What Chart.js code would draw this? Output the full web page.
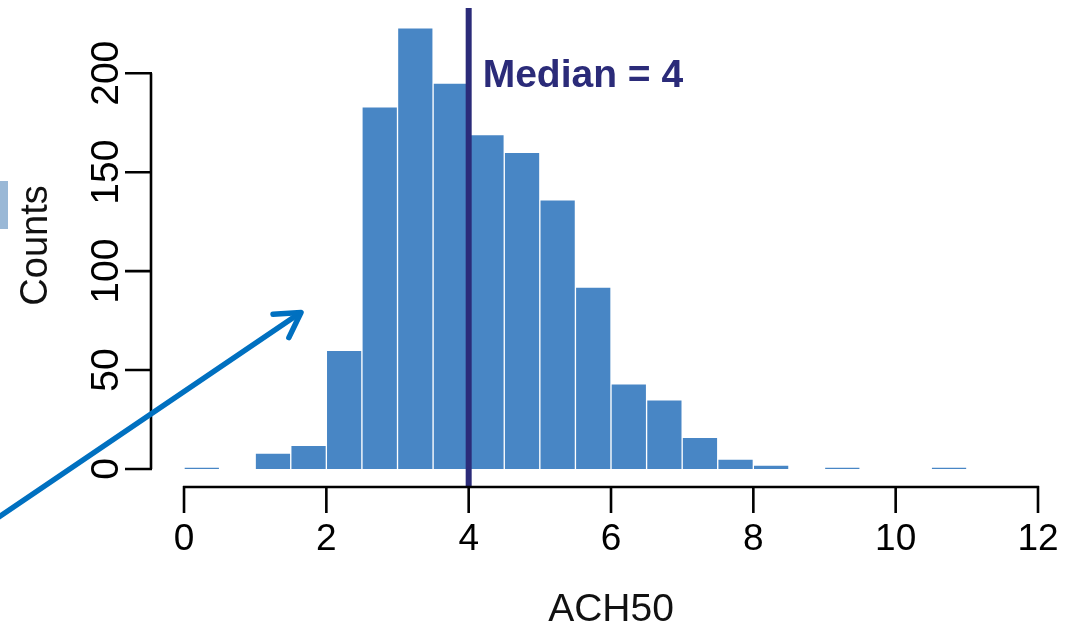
<!DOCTYPE html>
<html>
<head>
<meta charset="utf-8">
<title>ACH50 histogram</title>
<script src="https://cdn.jsdelivr.net/npm/chart.js@4.4.1/dist/chart.umd.min.js"></script>
<style>
  html, body { margin: 0; padding: 0; background: #fff; }
  #wrap { width: 1077px; height: 627px; position: relative; }
</style>
</head>
<body>
<div id="wrap"><canvas id="histChart" width="1077" height="627"></canvas></div>
<script>
// histogram bins (left edge of each 0.5-wide bin) and their counts
const binStart = [0, 0.5, 1, 1.5, 2, 2.5, 3, 3.5, 4, 4.5, 5, 5.5, 6, 6.5, 7, 7.5, 8, 8.5, 9, 9.5, 10, 10.5, 11, 11.5];
const counts = [1, 0, 8, 12, 60, 183, 223, 195, 169, 160, 136, 92, 43, 35, 16, 5, 2, 0, 1, 0, 0, 1, 0, 0];
const binWidth = 0.5;

const xTicks = [0, 2, 4, 6, 8, 10, 12];
const yTicks = [0, 50, 100, 150, 200];

const medianValue = 4;
const medianLabel = "Median = 4";
const xTitle = "ACH50";
const yTitle = "Counts";

const barColor = "#4886c5";
const medianColor = "#2b2b79";
const arrowColor = "#0070c0";
const FONT = '"Liberation Sans", Arial, Helvetica, sans-serif';

// scale limits leave room for the offset R-style axes
const xMin = -0.464, xMax = 12;
const yMin = -9.09, yMax = 235;

const histData = binStart.map((s, i) => ({ x: s + binWidth / 2, y: counts[i] }));
const medianData = [{ x: medianValue, y: yMin }, { x: medianValue, y: 233 }];

function text(ctx, str, x, y, font, color, align, rot) {
  ctx.save();
  ctx.translate(x, y);
  if (rot) ctx.rotate(rot);
  ctx.font = font;
  ctx.fillStyle = color;
  ctx.textAlign = align || "center";
  ctx.textBaseline = "alphabetic";
  ctx.fillText(str, 0, 0);
  ctx.restore();
}

// draws axes the way base R does: lines only over the tick range, outward ticks
const rAxes = {
  id: "rAxes",
  afterDatasetsDraw(chart) {
    const ctx = chart.ctx;
    const xs = chart.scales.x, ys = chart.scales.y;
    const area = chart.chartArea;
    const tickLen = 26;

    ctx.save();
    ctx.strokeStyle = "#000";
    ctx.lineWidth = 2.6;
    ctx.lineCap = "butt";

    // y axis
    const ax = area.left;
    ctx.beginPath();
    ctx.moveTo(ax, ys.getPixelForValue(yTicks[0]));
    ctx.lineTo(ax, ys.getPixelForValue(yTicks[yTicks.length - 1]));
    yTicks.forEach(v => {
      const py = ys.getPixelForValue(v);
      ctx.moveTo(ax - tickLen, py);
      ctx.lineTo(ax + 1, py);
    });
    ctx.stroke();

    // x axis
    const ay = area.bottom;
    ctx.beginPath();
    ctx.moveTo(xs.getPixelForValue(xTicks[0]) - 1, ay);
    ctx.lineTo(xs.getPixelForValue(xTicks[xTicks.length - 1]) + 1, ay);
    xTicks.forEach(v => {
      const px = xs.getPixelForValue(v);
      ctx.moveTo(px, ay - 1);
      ctx.lineTo(px, ay + tickLen);
    });
    ctx.stroke();
    ctx.restore();

    yTicks.forEach(v => {
      text(ctx, String(v), ax - 33, ys.getPixelForValue(v), "39px " + FONT, "#000", "center", -Math.PI / 2);
    });
    xTicks.forEach(v => {
      text(ctx, String(v), xs.getPixelForValue(v), ay + 63, "37px " + FONT, "#000", "center");
    });

    // axis titles
    const xMid = (xs.getPixelForValue(xTicks[0]) + xs.getPixelForValue(xTicks[xTicks.length - 1])) / 2;
    text(ctx, xTitle, xMid, ay + 134, "39px " + FONT, "#111", "center");
    text(ctx, yTitle, 47, (area.top + area.bottom) / 2, "38px " + FONT, "#111", "center", -Math.PI / 2);

    // median label
    text(ctx, medianLabel, xs.getPixelForValue(medianValue) + 14, ys.getPixelForValue(193),
      "bold 39px " + FONT, medianColor, "left");

    // slide callout pieces around the chart
    ctx.save();
    ctx.fillStyle = "#9ab8d6";
    ctx.fillRect(0, 181, 8, 48);
    ctx.strokeStyle = arrowColor;
    ctx.lineWidth = 5.5;
    ctx.lineCap = "round";
    ctx.lineJoin = "round";
    const x0 = -4, y0 = 519, x1 = 300, y1 = 313;
    const ang = Math.atan2(y1 - y0, x1 - x0);
    ctx.beginPath();
    ctx.moveTo(x0, y0);
    ctx.lineTo(x1, y1);
    ctx.stroke();
    const head = 27, spread = 0.55;
    ctx.beginPath();
    ctx.moveTo(x1 - head * Math.cos(ang - spread), y1 - head * Math.sin(ang - spread));
    ctx.lineTo(x1 + 1, y1 - 0.5);
    ctx.lineTo(x1 - head * Math.cos(ang + spread), y1 - head * Math.sin(ang + spread));
    ctx.stroke();
    ctx.restore();
  }
};

new Chart(document.getElementById("histChart"), {
  data: {
    datasets: [
      {
        type: "line",
        data: medianData,
        borderColor: medianColor,
        borderWidth: 6,
        pointRadius: 0,
        borderCapStyle: "butt",
        order: 0
      },
      {
        type: "bar",
        data: histData,
        backgroundColor: barColor,
        borderColor: "#ffffff",
        borderWidth: 1,
        barPercentage: 1,
        categoryPercentage: 1,
        order: 1
      }
    ]
  },
  options: {
    responsive: false,
    animation: false,
    layout: { padding: { left: 151, right: 39, top: 4, bottom: 140 } },
    plugins: {
      legend: { display: false },
      tooltip: { enabled: false },
      title: { display: false }
    },
    scales: {
      x: { type: "linear", min: xMin, max: xMax, offset: false, display: false },
      y: { type: "linear", min: yMin, max: yMax, display: false }
    }
  },
  plugins: [rAxes]
});
</script>
</body>
</html>
